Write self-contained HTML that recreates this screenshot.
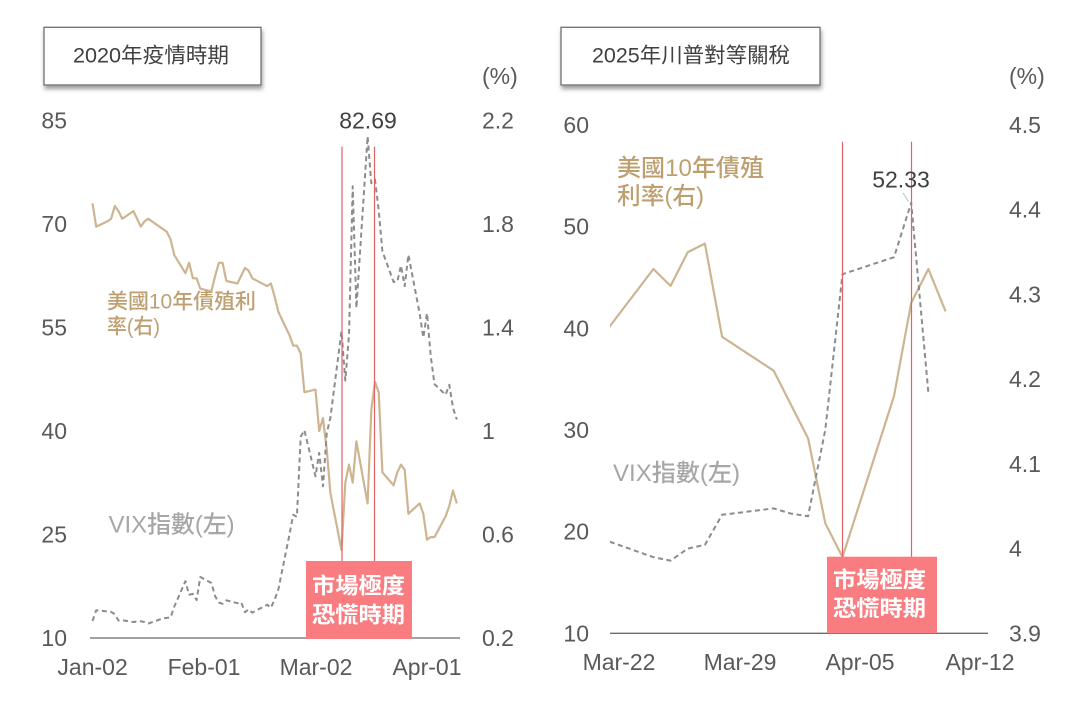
<!DOCTYPE html>
<html>
<head>
<meta charset="utf-8">
<style>
  html,body{margin:0;padding:0;background:#fff;}
  svg{display:block;}
  text{font-family:"Liberation Sans","Noto Sans CJK TC","Noto Sans CJK SC",sans-serif;}
  .ax{font-size:23px;fill:#595959;}
  .ann{font-size:23px;fill:#404040;}
  .ttl{font-size:21px;fill:#404040;}
  .tan{fill:#BE9F70;font-weight:500;}
  .vix{fill:#A6A6A6;font-weight:500;font-size:24px;}
  .pk{fill:#ffffff;font-weight:700;font-size:22px;}
</style>
</head>
<body>
<svg width="1077" height="718" viewBox="0 0 1077 718" xmlns="http://www.w3.org/2000/svg">
  <defs>
    <filter id="sh" x="-10%" y="-20%" width="120%" height="150%">
      <feDropShadow dx="1" dy="3.5" stdDeviation="2" flood-color="#000" flood-opacity="0.38"/>
    </filter>
    <clipPath id="clipR"><rect x="610" y="100" width="380" height="540"/></clipPath>
  </defs>

  <!-- ================= LEFT CHART ================= -->
  <rect x="44" y="27.3" width="217" height="57.7" fill="#fff" stroke="#6f6f6f" stroke-width="1.3" filter="url(#sh)"/>
  <text class="ttl" x="151" y="56" text-anchor="middle" dominant-baseline="central" textLength="156" lengthAdjust="spacingAndGlyphs">2020年疫情時期</text>

  <text class="ax" x="482" y="76" dominant-baseline="central">(%)</text>

  <!-- left axis -->
  <g class="ax" text-anchor="end" dominant-baseline="central">
    <text x="67" y="120.5">85</text>
    <text x="67" y="224">70</text>
    <text x="67" y="327.5">55</text>
    <text x="67" y="431">40</text>
    <text x="67" y="534.5">25</text>
    <text x="67" y="638">10</text>
  </g>
  <!-- right axis -->
  <g class="ax" dominant-baseline="central">
    <text x="482" y="120.5">2.2</text>
    <text x="482" y="224">1.8</text>
    <text x="482" y="327.5">1.4</text>
    <text x="482" y="431">1</text>
    <text x="482" y="534.5">0.6</text>
    <text x="482" y="638">0.2</text>
  </g>
  <!-- x labels -->
  <g class="ax" text-anchor="middle" dominant-baseline="central">
    <text x="92.6" y="667">Jan-02</text>
    <text x="204" y="667">Feb-01</text>
    <text x="316" y="667">Mar-02</text>
    <text x="427" y="667">Apr-01</text>
  </g>

  <line x1="90" y1="638" x2="460" y2="638" stroke="#6b6b6b" stroke-width="1.3"/>

  <!-- treasury 2020 -->
  <polyline fill="none" stroke="#CDB592" stroke-width="2.2" stroke-linejoin="round"
    points="92.5,203.3 96.2,226.6 107.4,221.4 111.1,218.8 114.8,205.9 118.5,211.1 122.2,218.8 133.4,211.1 137.1,218.8 140.8,226.6 144.5,221.4 148.3,218.8 163.1,229.2 166.8,231.8 170.6,239.5 174.3,255.1 185.4,273.2 189.1,262.8 192.9,278.3 196.6,278.3 200.3,288.7 211.4,291.3 215.2,275.7 218.9,262.8 222.6,262.8 226.3,280.9 237.5,283.5 241.2,275.7 244.9,268.0 248.6,270.6 252.3,278.3 267.2,286.1 270.9,283.5 274.6,296.4 278.4,312.0 289.5,335.3 293.2,345.6 296.9,345.6 300.7,353.4 304.4,392.2 315.5,389.6 319.2,431.0 323.0,418.1 326.7,449.1 330.4,493.1 341.5,550.0 345.3,482.7 349.0,464.6 352.7,482.7 356.4,441.3 367.6,503.4 371.3,410.3 375.0,381.8 378.7,392.2 382.4,472.4 393.6,485.3 397.3,472.4 401.0,464.6 404.7,469.8 408.4,513.8 419.6,503.4 423.3,513.8 427.0,539.7 430.7,537.1 434.5,537.1 445.6,516.4 449.3,506.0 453.0,490.5 456.8,503.4"/>

  <!-- VIX 2020 -->
  <polyline fill="none" stroke="#8C8C8C" stroke-width="2" stroke-dasharray="5 3.5" stroke-linejoin="round"
    points="92.5,621.0 96.2,610.3 107.4,611.4 111.1,611.9 114.8,614.2 118.5,620.5 122.2,620.3 133.4,622.0 137.1,621.5 140.8,621.3 144.5,622.0 148.3,623.5 163.1,618.3 166.8,617.9 170.6,617.4 174.3,606.5 185.4,581.2 189.1,594.7 192.9,593.9 196.6,600.1 200.3,577.0 211.4,583.0 215.2,596.3 218.9,602.5 222.6,603.8 226.3,600.3 237.5,603.2 241.2,602.3 244.9,612.2 248.6,609.4 252.3,612.6 267.2,604.7 270.9,607.8 274.6,599.6 278.4,589.2 289.5,534.3 293.2,514.8 296.9,516.8 300.7,436.8 304.4,430.2 315.5,476.4 319.2,452.9 323.0,486.3 326.7,433.6 330.4,417.6 341.5,331.2 345.3,380.6 349.0,335.1 352.7,186.3 356.4,308.0 367.6,136.4 371.3,183.2 375.0,179.5 378.7,210.2 382.4,251.3 393.6,282.0 397.3,281.5 401.0,265.7 404.7,286.1 408.4,254.8 419.6,313.2 423.3,337.6 427.0,313.3 430.7,355.7 434.5,384.1 445.6,394.8 449.3,384.8 453.0,407.9 456.8,419.5"/>

  <!-- red lines -->
  <line x1="342" y1="146.7" x2="342" y2="561" stroke="#E06262" stroke-width="1.2"/>
  <line x1="374.5" y1="146.7" x2="374.5" y2="561" stroke="#E06262" stroke-width="1.2"/>

  <!-- panic box -->
  <rect x="306" y="561" width="106" height="78" fill="#F87C80"/>
  <text class="pk" x="358.5" y="586" text-anchor="middle" dominant-baseline="central" textLength="93" lengthAdjust="spacingAndGlyphs">市場極度</text>
  <text class="pk" x="358.5" y="615" text-anchor="middle" dominant-baseline="central" textLength="93" lengthAdjust="spacingAndGlyphs">恐慌時期</text>

  <text class="ann" x="368" y="120.5" text-anchor="middle" dominant-baseline="central">82.69</text>

  <!-- legends -->
  <text class="tan" x="107" y="302" font-size="21" dominant-baseline="central" textLength="149" lengthAdjust="spacingAndGlyphs">美國10年債殖利</text>
  <text class="tan" x="107" y="327" font-size="21" dominant-baseline="central" textLength="53" lengthAdjust="spacingAndGlyphs">率(右)</text>
  <text class="vix" x="108.6" y="525" dominant-baseline="central" textLength="126" lengthAdjust="spacingAndGlyphs">VIX指數(左)</text>

  <!-- ================= RIGHT CHART ================= -->
  <rect x="561" y="27.3" width="259" height="57.7" fill="#fff" stroke="#6f6f6f" stroke-width="1.3" filter="url(#sh)"/>
  <text class="ttl" x="691" y="56" text-anchor="middle" dominant-baseline="central" textLength="198" lengthAdjust="spacingAndGlyphs">2025年川普對等關稅</text>

  <text class="ax" x="1009" y="76" dominant-baseline="central">(%)</text>

  <g class="ax" text-anchor="end" dominant-baseline="central">
    <text x="589" y="125">60</text>
    <text x="589" y="226.7">50</text>
    <text x="589" y="328.4">40</text>
    <text x="589" y="430">30</text>
    <text x="589" y="531.6">20</text>
    <text x="589" y="633.3">10</text>
  </g>
  <g class="ax" dominant-baseline="central">
    <text x="1009" y="125">4.5</text>
    <text x="1009" y="209.7">4.4</text>
    <text x="1009" y="294.4">4.3</text>
    <text x="1009" y="379.1">4.2</text>
    <text x="1009" y="463.9">4.1</text>
    <text x="1009" y="548.6">4</text>
    <text x="1009" y="633.3">3.9</text>
  </g>
  <g class="ax" text-anchor="middle" dominant-baseline="central">
    <text x="619" y="662">Mar-22</text>
    <text x="740" y="662">Mar-29</text>
    <text x="860" y="662">Apr-05</text>
    <text x="980" y="662">Apr-12</text>
  </g>

  <line x1="610" y1="633.3" x2="988" y2="633.3" stroke="#6b6b6b" stroke-width="1.3"/>

  <g clip-path="url(#clipR)">
    <polyline fill="none" stroke="#CDB592" stroke-width="2.2" stroke-linejoin="round"
      points="601.8,336.8 653.4,269.0 670.6,285.9 687.8,252.1 704.9,243.6 722.1,336.8 773.7,370.7 790.9,404.6 808.1,438.4 825.3,523.2 842.5,557.1 894.0,396.1 911.2,302.9 928.4,269.0 945.6,311.4"/>
    <polyline fill="none" stroke="#8C8C8C" stroke-width="2" stroke-dasharray="5 3.5" stroke-linejoin="round"
      points="601.8,538.9 653.4,557.2 670.6,560.6 687.8,548.6 704.9,544.9 722.1,514.8 773.7,508.4 790.9,513.6 808.1,516.2 825.3,429.7 842.5,274.2 894.0,257.2 911.2,202.8 928.4,393.1"/>
  </g>

  <line x1="842.5" y1="141.7" x2="842.5" y2="556.7" stroke="#E06262" stroke-width="1.2"/>
  <line x1="911.5" y1="141.7" x2="911.5" y2="556.7" stroke="#E06262" stroke-width="1.2"/>

  <rect x="827" y="556.7" width="110" height="76.6" fill="#F87C80"/>
  <text class="pk" x="879.5" y="580" text-anchor="middle" dominant-baseline="central" textLength="93" lengthAdjust="spacingAndGlyphs">市場極度</text>
  <text class="pk" x="879.5" y="608.5" text-anchor="middle" dominant-baseline="central" textLength="93" lengthAdjust="spacingAndGlyphs">恐慌時期</text>

  <line x1="903" y1="193" x2="908.5" y2="201.5" stroke="#A9C4D0" stroke-width="1"/>
  <text class="ann" x="901" y="179.3" text-anchor="middle" dominant-baseline="central">52.33</text>

  <text class="tan" x="617" y="168.3" font-size="24" dominant-baseline="central" textLength="147" lengthAdjust="spacingAndGlyphs">美國10年債殖</text>
  <text class="tan" x="617" y="196.7" font-size="24" dominant-baseline="central" textLength="87" lengthAdjust="spacingAndGlyphs">利率(右)</text>
  <text class="vix" x="613" y="473.3" dominant-baseline="central" textLength="127" lengthAdjust="spacingAndGlyphs">VIX指數(左)</text>
</svg>
</body>
</html>
